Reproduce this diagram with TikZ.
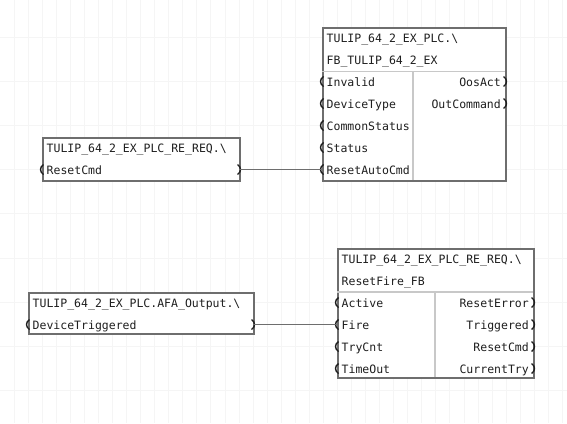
\documentclass[tikz,border=0pt]{standalone}
\usepackage{fontspec}
\setmonofont{DejaVu Sans Mono}
\usetikzlibrary{positioning, calc}
\definecolor{framecolor}{RGB}{110,110,110}
\definecolor{splitcolor}{RGB}{200,200,200}
\definecolor{gridcolor}{RGB}{245,245,245}
\definecolor{labelcolor}{RGB}{30,30,30}

\begin{document}
\begin{tikzpicture}[x=1pt, y=-1pt,
    block/.style={draw=framecolor, line width=1.6pt, fill=white, anchor=north west, inner sep=0pt},
    split/.style={draw=splitcolor, line width=1.3pt},
    gridline/.style={draw=gridcolor, line width=0.9pt},
    pin/.style={font=\ttfamily\fontsize{11.5}{13}\selectfont, text=labelcolor, inner sep=0pt},
    wire/.style={draw=framecolor, line width=1.6pt},
    bracket/.style={draw=labelcolor, line width=1.4pt},
    inport/.pic={\draw[bracket] (1.5,-5) .. controls (-2.5,-2.5) and (-2.5,2.5) .. (1.5,5);},
    outport/.pic={\draw[bracket] (-1.5,-5) .. controls (2.5,-2.5) and (2.5,2.5) .. (-1.5,5);}
]
    \useasboundingbox (0,0) rectangle (567,423);
    % Background grid
    \foreach \i in {1,...,40} \draw[gridline] (\i*14.06,0) -- (\i*14.06,423);
    \foreach \j in {0,...,8} \draw[gridline] (0,37+\j*44.2) -- (567,37+\j*44.2);

    % Function block FB_TULIP_64_2_EX
    \node[block, minimum width=183pt, minimum height=153pt] (fbtulip) at (322,27) {};
    \draw[split] (322,71.5) -- (505,71.5);
    \draw[split] (413,71.5) -- (413,180);
    \node[pin, anchor=base west] (fbpath) at (326.5,42) {TULIP\_64\_2\_EX\_PLC.\textbackslash};
    \node[pin, anchor=base west] (fbtype) at (326.5,64) {FB\_TULIP\_64\_2\_EX};
    \foreach \pinname [count=\i] in {Invalid,DeviceType,CommonStatus,Status,ResetAutoCmd} {
        \node[pin, anchor=base west] (fbin\i) at (326.5,64+22*\i) {\pinname};
        \coordinate (fbport\i) at (322,59.5+22*\i);
        \pic at (fbport\i) {inport};
    }
    \foreach \pinname [count=\i] in {OosAct,OutCommand} {
        \node[pin, anchor=base east] (fbout\i) at (501,64+22*\i) {\pinname};
        \pic at (505,59.5+22*\i) {outport};
    }

    % Variable TULIP_64_2_EX_PLC_RE_REQ.ResetCmd
    \node[block, minimum width=197pt, minimum height=43pt] (reqcmd) at (42,137) {};
    \node[pin, anchor=base west] (reqpath) at (46.5,152) {TULIP\_64\_2\_EX\_PLC\_RE\_REQ.\textbackslash};
    \node[pin, anchor=base west] (reqvar) at (46.5,174) {ResetCmd};
    \pic at (42,169.5) {inport};
    \coordinate (reqport) at (239,169.5);
    \pic at (reqport) {outport};

    % Variable TULIP_64_2_EX_PLC.AFA_Output.DeviceTriggered
    \node[block, minimum width=225pt, minimum height=41pt] (afaout) at (28,292) {};
    \node[pin, anchor=base west] (afapath) at (32.5,307) {TULIP\_64\_2\_EX\_PLC.AFA\_Output.\textbackslash};
    \node[pin, anchor=base west] (afavar) at (32.5,329) {DeviceTriggered};
    \pic at (28,324.5) {inport};
    \coordinate (afaport) at (253,324.5);
    \pic at (afaport) {outport};

    % Function block ResetFire_FB
    \node[block, minimum width=196pt, minimum height=129pt] (resetfire) at (337,248) {};
    \draw[split] (337,292) -- (533,292);
    \draw[split] (435,292) -- (435,377);
    \node[pin, anchor=base west] (firepath) at (341.5,263) {TULIP\_64\_2\_EX\_PLC\_RE\_REQ.\textbackslash};
    \node[pin, anchor=base west] (firetype) at (341.5,285) {ResetFire\_FB};
    \foreach \pinname [count=\i] in {Active,Fire,TryCnt,TimeOut} {
        \node[pin, anchor=base west] (firein\i) at (341.5,285+22*\i) {\pinname};
        \coordinate (fireport\i) at (337,280.5+22*\i);
        \pic at (fireport\i) {inport};
    }
    \foreach \pinname [count=\i] in {ResetError,Triggered,ResetCmd,CurrentTry} {
        \node[pin, anchor=base east] (fireout\i) at (529,285+22*\i) {\pinname};
        \pic at (533,280.5+22*\i) {outport};
    }

    % Connections
    \draw[wire] (reqport) -- (fbport5);
    \draw[wire] (afaport) -- (fireport2);
\end{tikzpicture}
\end{document}
